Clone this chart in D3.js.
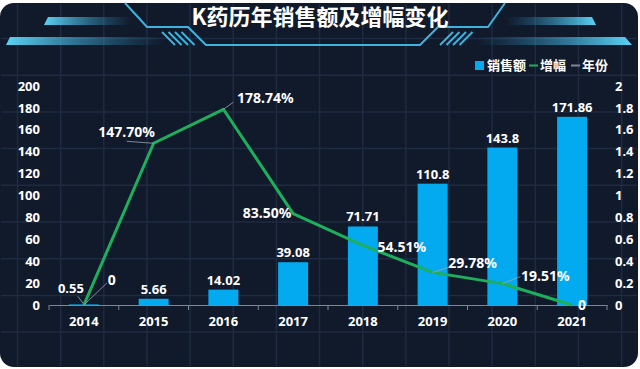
<!DOCTYPE html>
<html>
<head>
<meta charset="utf-8">
<script src="https://cdn.jsdelivr.net/npm/d3@7"></script>
<style>
  html, body { margin: 0; padding: 0; background: #ffffff; }
  svg { display: block; }
  text { font-family: "Noto Sans", "Noto Sans CJK SC", sans-serif; font-weight: bold; }
</style>
</head>
<body>
<svg id="chart" width="640" height="369"></svg>
<script>
// Data
const years = ["2014", "2015", "2016", "2017", "2018", "2019", "2020", "2021"];
const sales = [0.55, 5.66, 14.02, 39.08, 71.71, 110.8, 143.8, 171.86];
const growth = [0, 1.477, 1.7874, 0.835, 0.5451, 0.2978, 0.1951, 0];
const growthLabels = ["0", "147.70%", "178.74%", "83.50%", "54.51%", "29.78%", "19.51%", "0"];
const leftTicks = [0, 20, 40, 60, 80, 100, 120, 140, 160, 180, 200];
const rightTicks = [0, 0.2, 0.4, 0.6, 0.8, 1, 1.2, 1.4, 1.6, 1.8, 2];
const legendItems = ["销售额", "增幅", "年份"];

// label layout (label centre offset from point, leader end offset from label centre)
const growthLabelOffset = [[28, -25], [-27, -11], [42, -11], [-26, -1], [39, 2], [40, -9], [43, -8], [10, 0]];
const growthLeaderEnd = [[-5, 3], [0, 9], [-32, 4], null, null, [-24, 4], [-25, 1], null];

const W = 640, H = 369;
const svg = d3.select("#chart");
const defs = svg.append("defs");

// ---- card background ----
svg.append("rect")
  .attr("x", 0).attr("y", 3).attr("width", 638).attr("height", 364)
  .attr("rx", 14).attr("fill", "#111a2b");

// decorative grid behind everything
const deco = svg.append("g").attr("stroke", "#1f2b42").attr("stroke-width", 1.5);
d3.range(17.5, 638, 43.15).forEach(x => {
  deco.append("line").attr("x1", x).attr("x2", x).attr("y1", 4).attr("y2", 366);
});
d3.range(38.5, 366, 36.7).forEach(y => {
  deco.append("line").attr("x1", 1).attr("x2", 637).attr("y1", y).attr("y2", y);
});

// ---- title banner ----
const gl = defs.append("linearGradient").attr("id", "barL").attr("x1", "0%").attr("x2", "100%");
gl.append("stop").attr("offset", "0%").attr("stop-color", "#5ad4f6").attr("stop-opacity", 1);
gl.append("stop").attr("offset", "100%").attr("stop-color", "#2a8fc0").attr("stop-opacity", 0);
const gr = defs.append("linearGradient").attr("id", "barR").attr("x1", "100%").attr("x2", "0%");
gr.append("stop").attr("offset", "0%").attr("stop-color", "#5ad4f6").attr("stop-opacity", 1);
gr.append("stop").attr("offset", "100%").attr("stop-color", "#2a8fc0").attr("stop-opacity", 0);

const banner = svg.append("g");
banner.append("path").attr("d", "M48,17 L132,17 L130,25 L44,25 Z").attr("fill", "url(#barL)");
banner.append("path").attr("d", "M10,37 L165,37 L163,45 L6,45 Z").attr("fill", "url(#barL)");
banner.append("path").attr("d", "M506,17 L592,17 L596,25 L508,25 Z").attr("fill", "url(#barR)");
banner.append("path").attr("d", "M478,37 L625,37 L632,45 L476,45 Z").attr("fill", "url(#barR)");

banner.append("path")
  .attr("d", "M125,3 L147,27 L188,27 L206,45 L420,45 L438,27 L488,27 L505,3")
  .attr("fill", "none").attr("stroke", "#3db3de").attr("stroke-width", 2);
d3.range(4).forEach(i => {
  banner.append("line")
    .attr("x1", 162 + i * 6.5).attr("y1", 32).attr("x2", 175 + i * 6.5).attr("y2", 45)
    .attr("stroke", "#3db3de").attr("stroke-width", 2);
  banner.append("line")
    .attr("x1", 440 + i * 6.5).attr("y1", 45).attr("x2", 453 + i * 6.5).attr("y2", 32)
    .attr("stroke", "#3db3de").attr("stroke-width", 2);
});

svg.append("text")
  .attr("x", 320).attr("y", 25)
  .attr("text-anchor", "middle")
  .attr("fill", "#ffffff")
  .style("font-family", "'Noto Sans CJK SC', sans-serif")
  .style("font-size", "22px")
  .text("K药历年销售额及增幅变化");

// ---- scales ----
const x = d3.scaleBand().domain(years).range([49, 607]).paddingInner(0.57).paddingOuter(0.285);
const xc = d => x(d) + x.bandwidth() / 2;
const yL = d3.scaleLinear().domain([0, 200]).range([305, 86]);
const yR = d3.scaleLinear().domain([0, 2]).range([305, 86]);

// ---- axes ----
const leftAxis = svg.append("g")
  .attr("transform", "translate(44,0)")
  .call(d3.axisLeft(yL).tickValues(leftTicks).tickSize(0).tickPadding(4));
const rightAxis = svg.append("g")
  .attr("transform", "translate(611,0)")
  .call(d3.axisRight(yR).tickValues(rightTicks).tickFormat(d => String(+d.toFixed(1))).tickSize(0).tickPadding(4));
[leftAxis, rightAxis].forEach(g => {
  g.select(".domain").remove();
  g.selectAll("text").attr("fill", "#ffffff").style("font-size", "13px").style("font-family", "'Noto Sans', sans-serif");
});

// bars
svg.append("g").selectAll("rect").data(sales).join("rect")
  .attr("x", (d, i) => x(years[i]))
  .attr("y", d => yL(d))
  .attr("width", x.bandwidth())
  .attr("height", d => yL(0) - yL(d))
  .attr("fill", "#04aaf0");

// x axis
const bottomAxis = svg.append("g")
  .attr("transform", "translate(0,305)")
  .call(d3.axisBottom(x).tickSize(0).tickPadding(12));
bottomAxis.select(".domain").attr("stroke", "#7d8697").attr("stroke-width", 1);
bottomAxis.selectAll("text").attr("fill", "#ffffff").style("font-size", "13px").style("font-family", "'Noto Sans', sans-serif");
const step = x.step();
d3.range(years.length + 1).forEach(i => {
  bottomAxis.append("line")
    .attr("x1", 49 + i * step).attr("x2", 49 + i * step)
    .attr("y1", 0).attr("y2", 5)
    .attr("stroke", "#7d8697");
});

// bar labels
const barLabels = svg.append("g");
sales.forEach((v, i) => {
  let cx = xc(years[i]), by = yL(v) - 5;
  if (i === 0) {
    cx -= 13; by -= 6;
    barLabels.append("line")
      .attr("x1", cx + 7).attr("y1", by + 3).attr("x2", xc(years[i])).attr("y2", yL(v))
      .attr("stroke", "#9aa3b2").attr("stroke-width", 0.8);
  }
  barLabels.append("text")
    .attr("x", cx).attr("y", by)
    .attr("text-anchor", "middle")
    .attr("fill", "#ffffff")
    .style("font-size", "13px")
    .text(String(v));
});

// growth line
const line = d3.line()
  .x((d, i) => xc(years[i]))
  .y(d => yR(d));
svg.append("path")
  .datum(growth)
  .attr("fill", "none")
  .attr("stroke", "#1eaf5c")
  .attr("stroke-width", 3)
  .attr("stroke-linejoin", "round")
  .attr("d", line);

// growth labels with leader lines
const gLabels = svg.append("g");
growth.forEach((v, i) => {
  const px = xc(years[i]), py = yR(v);
  const cx = px + growthLabelOffset[i][0], cy = py + growthLabelOffset[i][1];
  const le = growthLeaderEnd[i];
  if (le) {
    gLabels.append("line")
      .attr("x1", px).attr("y1", py)
      .attr("x2", cx + le[0]).attr("y2", cy + le[1])
      .attr("stroke", "#9aa3b2").attr("stroke-width", 0.8);
  }
  gLabels.append("text")
    .attr("x", cx).attr("y", cy + 5)
    .attr("text-anchor", "middle")
    .attr("fill", "#ffffff")
    .style("font-size", "14px")
    .text(growthLabels[i]);
});

// legend
const legend = svg.append("g").style("font-size", "13px");
legend.append("rect").attr("x", 475).attr("y", 61).attr("width", 9).attr("height", 9).attr("fill", "#04aaf0");
legend.append("text").attr("x", 487).attr("y", 70).attr("fill", "#ffffff").text(legendItems[0]);
legend.append("line").attr("x1", 529).attr("x2", 538).attr("y1", 65.5).attr("y2", 65.5).attr("stroke", "#1eaf5c").attr("stroke-width", 2);
legend.append("text").attr("x", 540).attr("y", 70).attr("fill", "#ffffff").text(legendItems[1]);
legend.append("line").attr("x1", 571).attr("x2", 580).attr("y1", 65.5).attr("y2", 65.5).attr("stroke", "#7d8697").attr("stroke-width", 2);
legend.append("text").attr("x", 582).attr("y", 70).attr("fill", "#ffffff").text(legendItems[2]);
</script>
</body>
</html>
